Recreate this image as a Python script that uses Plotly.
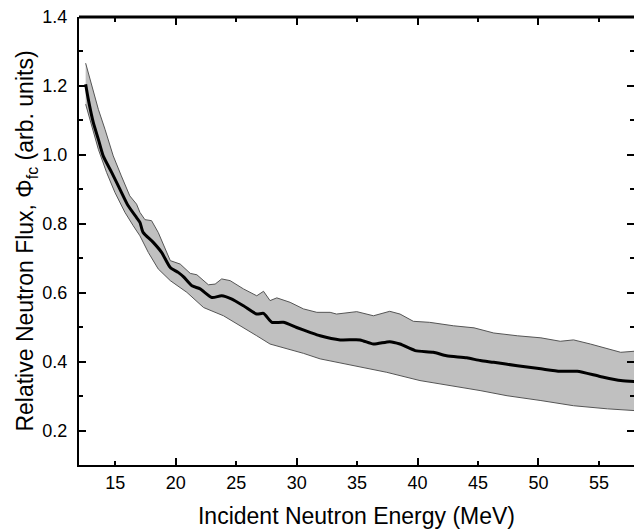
import plotly.graph_objects as go

# Central curve (MeV, arb. units)
center_e = [12.55, 12.77, 13.18, 13.6, 14.0, 14.7, 15.39, 16.07, 16.76, 17.04, 17.3, 18.14, 18.83,
            19.55, 20.2, 20.65, 21.34, 22.02, 22.99, 23.8, 24.6, 25.6, 26.7, 27.26, 27.95, 28.9,
            30.0, 31.1, 31.94, 33.6, 35.25, 36.35, 37.7, 38.55, 39.8, 41.3, 42.4, 44.07, 45.2,
            46.3, 48.25, 50.2, 51.8, 53.2, 55.1, 56.8, 58.2]
center_flux = [1.205, 1.161, 1.094, 1.045, 0.997, 0.949, 0.900, 0.852, 0.818, 0.804, 0.775, 0.746, 0.717,
               0.673, 0.659, 0.646, 0.620, 0.611, 0.586, 0.591, 0.582, 0.562, 0.538, 0.540, 0.514, 0.514,
               0.499, 0.485, 0.475, 0.463, 0.463, 0.451, 0.458, 0.451, 0.432, 0.427, 0.417, 0.411, 0.403,
               0.398, 0.388, 0.379, 0.372, 0.372, 0.357, 0.345, 0.342]

# Uncertainty band, upper edge
upper_e = [12.55, 13.04, 13.6, 14.15, 14.83, 15.5, 16.2, 16.76, 17.04, 17.45, 18.0, 18.55, 19.1, 19.55,
           20.37, 21.2, 21.75, 22.7, 23.26, 23.8, 24.5, 25.6, 26.7, 27.26, 27.8, 28.36, 29.46, 30.56,
           31.67, 32.77, 33.3, 34.97, 36.35, 37.7, 38.55, 39.65, 41.0, 42.96, 44.67, 46.3, 48.25, 50.2,
           51.8, 52.9, 54.3, 56.8, 57.9, 58.2]
upper_flux = [1.266, 1.200, 1.132, 1.074, 0.997, 0.939, 0.881, 0.857, 0.833, 0.812, 0.809, 0.775, 0.731, 0.693,
              0.683, 0.656, 0.652, 0.623, 0.625, 0.640, 0.635, 0.611, 0.591, 0.604, 0.577, 0.585, 0.572, 0.553,
              0.543, 0.543, 0.538, 0.545, 0.533, 0.546, 0.538, 0.517, 0.514, 0.504, 0.498, 0.483, 0.475, 0.469,
              0.459, 0.463, 0.451, 0.427, 0.430, 0.430]

# Uncertainty band, lower edge
lower_e = [12.55, 13.04, 13.6, 14.28, 14.97, 15.8, 16.49, 17.04, 17.73, 18.55, 19.55, 20.92, 22.3, 23.95,
           25.06, 26.7, 27.8, 28.9, 30.56, 31.94, 32.77, 34.7, 37.45, 40.2, 42.96, 45.17, 47.4, 50.2,
           52.9, 55.7, 57.9, 58.2]
lower_flux = [1.147, 1.084, 1.016, 0.949, 0.891, 0.833, 0.794, 0.765, 0.717, 0.669, 0.635, 0.601, 0.557, 0.533,
              0.509, 0.475, 0.451, 0.440, 0.424, 0.408, 0.403, 0.388, 0.369, 0.345, 0.328, 0.316, 0.301, 0.287,
              0.272, 0.263, 0.258, 0.257]

x_labels_ticks = [15, 20, 25, 30, 35, 40, 45, 50, 55]
x_long_ticks = [20, 30, 40, 50]
x_range = [12, 57.9]
y_range = [0.1, 1.4]

FONT = "Liberation Sans, Arial, sans-serif"

fig = go.Figure()

band_x = upper_e + lower_e[::-1]
band_y = upper_flux + lower_flux[::-1]
fig.add_trace(go.Scatter(x=band_x, y=band_y, fill="toself", fillcolor="#c0c0c0",
                         mode="lines", line=dict(color="#555555", width=1),
                         hoverinfo="skip", showlegend=False))
fig.add_trace(go.Scatter(x=center_e, y=center_flux, mode="lines",
                         line=dict(color="black", width=3, shape="spline", smoothing=0.6),
                         showlegend=False))

axis_common = dict(showgrid=False, zeroline=False, ticks="inside", tickcolor="black",
                   tickwidth=2, linecolor="black", linewidth=2, automargin=False)
minor_y = dict(dtick=0.1, tick0=0, ticks="inside", ticklen=4, tickwidth=2, tickcolor="black")

fig.update_layout(
    width=634, height=529,
    margin=dict(l=79, r=0, t=17, b=64),
    plot_bgcolor="white", paper_bgcolor="white",
    font=dict(family=FONT, color="black", size=18),
    xaxis=dict(range=x_range, tickvals=x_labels_ticks, ticklen=4, showline=True,
               ticklabelstandoff=0,
               title=dict(text="Incident Neutron Energy (MeV)", font=dict(size=23), standoff=16),
               **axis_common),
    xaxis3=dict(range=x_range, overlaying="x", anchor="y", side="bottom", tickvals=x_long_ticks,
                ticklen=7, showline=True, showticklabels=False, **axis_common),
    xaxis2=dict(range=x_range, overlaying="x", anchor="free", position=1, side="top",
                tickvals=x_labels_ticks, ticklen=4, showline=True, showticklabels=False, **axis_common),
    xaxis4=dict(range=x_range, overlaying="x", anchor="free", position=1, side="top",
                tickvals=x_long_ticks, ticklen=7, showline=True, showticklabels=False, **axis_common),
    yaxis=dict(range=y_range, tick0=0, dtick=0.2, tickformat=".1f", ticklen=7, showline=True,
               ticklabelstandoff=6, minor=minor_y,
               title=dict(text="Relative Neutron Flux, \u03a6<sub>fc</sub> (arb. units)",
                          font=dict(size=23), standoff=2),
               **axis_common),
    yaxis2=dict(range=y_range, overlaying="y", side="right", anchor="x", tick0=0, dtick=0.2,
                ticklen=7, showline=False, showticklabels=False, automargin=False, minor=minor_y,
                showgrid=False, zeroline=False, ticks="inside", tickcolor="black", tickwidth=2),
    shapes=[dict(type="line", xref="paper", yref="paper", x0=0, x1=1, y0=1, y1=1,
                 line=dict(color="black", width=3), layer="above")],
)

# invisible traces so the overlay axes are rendered
for xa, ya in (("x3", "y"), ("x2", "y"), ("x4", "y"), ("x", "y2")):
    fig.add_trace(go.Scatter(x=[x_range[0]], y=[y_range[0]], xaxis=xa, yaxis=ya, mode="markers",
                             marker=dict(opacity=0), hoverinfo="skip", showlegend=False))

fig.write_html("out.html", config={"displayModeBar": False},
               post_script="document.body.style.margin='0';")
